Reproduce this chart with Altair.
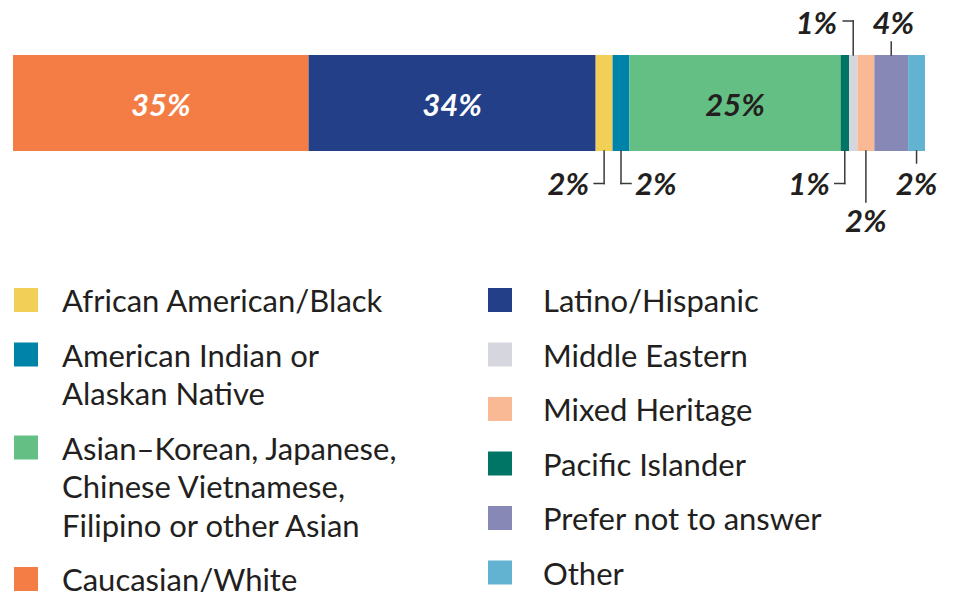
import altair as alt
import pandas as pd

# ---------------- data ----------------
categories = ["Caucasian/White", "Latino/Hispanic", "African American/Black",
              "American Indian or Alaskan Native", "Asian", "Pacific Islander",
              "Middle Eastern", "Mixed Heritage", "Prefer not to answer", "Other"]
values = [35, 34, 2, 2, 25, 1, 1, 2, 4, 2]
colors = ["#F47D46", "#233F88", "#F2CF57", "#0083A9", "#64BF84", "#007566",
          "#D5D6DE", "#F8B994", "#8788B5", "#61B3D1"]

legend_labels = {
    "African American/Black": "African American/Black",
    "American Indian or Alaskan Native": "American Indian or\nAlaskan Native",
    "Asian": "Asian\u2013Korean, Japanese,\nChinese Vietnamese,\nFilipino or other Asian",
    "Caucasian/White": "Caucasian/White",
    "Latino/Hispanic": "Latino/Hispanic",
    "Middle Eastern": "Middle Eastern",
    "Mixed Heritage": "Mixed Heritage",
    "Pacific Islander": "Pacific Islander",
    "Prefer not to answer": "Prefer not to answer",
    "Other": "Other",
}
legend_left = ["African American/Black", "American Indian or Alaskan Native", "Asian", "Caucasian/White"]
legend_right = ["Latino/Hispanic", "Middle Eastern", "Mixed Heritage", "Pacific Islander",
                "Prefer not to answer", "Other"]

# ---------------- layout / style ----------------
W, H = 946, 584
DARK = "#231F20"
FONT = "Lato"
placement = {
    "Caucasian/White": "in_white",
    "Latino/Hispanic": "in_white",
    "African American/Black": "below_left",
    "American Indian or Alaskan Native": "below_right",
    "Asian": "in_dark",
    "Pacific Islander": "below_left",
    "Middle Eastern": "above_left",
    "Mixed Heritage": "below_long",
    "Prefer not to answer": "above_short",
    "Other": "below_short",
}
BAR_TOP, BAR_BOT = 47, 143
X_RANGE = [5, 917]
TOTAL = sum(values)
PX_PER = (X_RANGE[1] - X_RANGE[0]) / TOTAL
ELBOW = 10 / PX_PER

IN_Y = 99
BELOW_Y, BELOW_TY = 175.5, 178
LONG_Y, LONG_TY = 194, 215
SHORT_Y, SHORT_TY = 155, 178
ABOVE_Y, ABOVE_TY = 13, 17
ABOVE_SHORT_Y = 34

# ---------------- build tables ----------------
starts, ends = [], []
acc = 0
for v in values:
    starts.append(acc)
    acc += v
    ends.append(acc)
bars = pd.DataFrame({"category": categories, "value": values, "start": starts, "end": ends})
bars["center"] = (bars["start"] + bars["end"]) / 2
bars["label"] = bars["value"].astype(str) + "%"

segs = []
texts = []  # x, y, label, align, dx
inside = []
for _, r in bars.iterrows():
    p = placement[r["category"]]
    c = r["center"]
    if p.startswith("in"):
        inside.append({"x": c, "label": r["label"], "tc": "white" if p == "in_white" else DARK})
    elif p == "below_left":
        segs += [(c, c, BAR_BOT, BELOW_Y), (c, c - ELBOW, BELOW_Y, BELOW_Y)]
        texts.append((c, BELOW_TY, r["label"], "right", -15))
    elif p == "below_right":
        segs += [(c, c, BAR_BOT, BELOW_Y), (c, c + ELBOW, BELOW_Y, BELOW_Y)]
        texts.append((c, BELOW_TY, r["label"], "left", 14))
    elif p == "below_long":
        segs += [(c, c, BAR_BOT, LONG_Y)]
        texts.append((c, LONG_TY, r["label"], "center", 0))
    elif p == "below_short":
        segs += [(c, c, BAR_BOT, SHORT_Y)]
        texts.append((c, SHORT_TY, r["label"], "center", 0))
    elif p == "above_left":
        segs += [(c, c, BAR_TOP, ABOVE_Y), (c, c - ELBOW, ABOVE_Y, ABOVE_Y)]
        texts.append((c, ABOVE_TY, r["label"], "right", -16))
    elif p == "above_short":
        segs += [(c, c, BAR_TOP, ABOVE_SHORT_Y)]
        texts.append((c, ABOVE_TY, r["label"], "center", 2))

seg_df = pd.DataFrame(segs, columns=["xa", "xb", "ya", "yb"])
txt_df = pd.DataFrame(texts, columns=["x", "y", "label", "align", "dx"])
in_df = pd.DataFrame(inside)

LEG_TOP, LEG_STEP, LEG_LINE = 280, 54.5, 38.5
leg_rows = []
for col, keys in enumerate([legend_left, legend_right]):
    extra = 0
    for i, k in enumerate(keys):
        lab = legend_labels[k]
        top = LEG_TOP + i * LEG_STEP + extra * LEG_LINE
        extra += lab.count("\n")
        leg_rows.append({"category": k, "text": lab, "col": col,
                         "sx": [18, 492][col], "tx": [54, 535][col],
                         "top": top, "mid": top + 12})
leg_df = pd.DataFrame(leg_rows)

# ---------------- scales ----------------
xs = alt.Scale(domain=[0, TOTAL], range=X_RANGE, nice=False, zero=False)
pxs = alt.Scale(domain=[0, W], range=[0, W], nice=False, zero=False)
ys = alt.Scale(domain=[0, H], range=[0, H], nice=False, zero=False)
cs = alt.Scale(domain=categories, range=colors)

bar = alt.Chart(bars).mark_bar(strokeWidth=0).encode(
    x=alt.X("start:Q", scale=xs, axis=None),
    x2="end:Q",
    y=alt.value(BAR_TOP),
    y2=alt.value(BAR_BOT),
    color=alt.Color("category:N", scale=cs, legend=None),
)

in_txt = alt.Chart(in_df).mark_text(
    font=FONT, fontSize=31, fontWeight="bold", fontStyle="italic", baseline="middle"
).encode(
    x=alt.X("x:Q", scale=xs, axis=None),
    y=alt.value(IN_Y),
    text="label:N",
    color=alt.Color("tc:N", scale=None),
)

rules = alt.Chart(seg_df).mark_rule(color="#3A3A3A", strokeWidth=1.5, strokeCap="square").encode(
    x=alt.X("xa:Q", scale=xs, axis=None),
    x2="xb:Q",
    y=alt.Y("ya:Q", scale=ys, axis=None),
    y2="yb:Q",
)

out_layers = []
for al in ["left", "right", "center"]:
    sub = txt_df[txt_df["align"] == al]
    for dx in sorted(sub["dx"].unique()):
        s2 = sub[sub["dx"] == dx]
        out_layers.append(
            alt.Chart(s2).mark_text(
                font=FONT, fontSize=31, fontWeight="bold", fontStyle="italic",
                baseline="middle", align=al, dx=float(dx), color=DARK
            ).encode(
                x=alt.X("x:Q", scale=xs, axis=None),
                y=alt.Y("y:Q", scale=ys, axis=None),
                text="label:N",
            )
        )

leg_sq = alt.Chart(leg_df).mark_square(size=576, opacity=1, filled=True).encode(
    x=alt.X("sx:Q", scale=pxs, axis=None),
    y=alt.Y("mid:Q", scale=ys, axis=None),
    color=alt.Color("category:N", scale=cs, legend=None),
)
leg_txt = alt.Chart(leg_df).mark_text(
    font=FONT, fontSize=31, align="left", baseline="top", lineBreak="\n",
    lineHeight=LEG_LINE, color=DARK
).encode(
    x=alt.X("tx:Q", scale=pxs, axis=None),
    y=alt.Y("top:Q", scale=ys, axis=None),
    text="text:N",
)

chart = alt.layer(bar, in_txt, rules, *out_layers, leg_sq, leg_txt).resolve_scale(
    x="independent", y="independent", color="independent"
).properties(
    width=W, height=H, padding=0,
    autosize=alt.AutoSizeParams(type="none"),
    background="white",
).configure_view(stroke=None)

chart.save("out.html", embed_options={"renderer": "svg", "actions": False})
